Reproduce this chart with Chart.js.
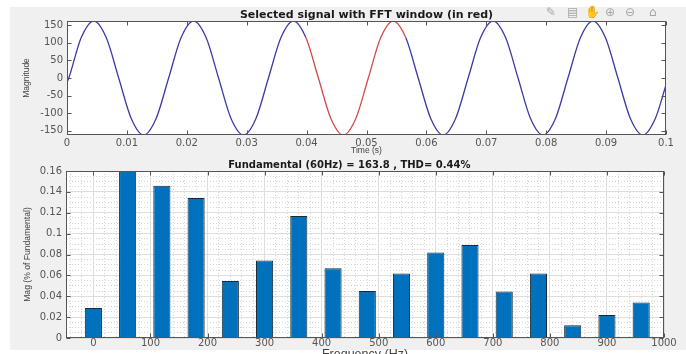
<!DOCTYPE html>
<html>
<head>
<meta charset="utf-8">
<script src="https://cdn.jsdelivr.net/npm/chart.js@4"></script>
<style>
html, body { margin: 0; padding: 0; background: #fff; width: 686px; height: 354px; overflow: hidden; }
#fig { position: absolute; left: 10px; top: 7px; width: 676px; height: 343px; background: #f0f0f0; }
canvas { position: absolute; left: 0; }
#top { top: 0; }
#bottom { top: 158px; }
.tool { position: absolute; top: 5px; font: 12px "DejaVu Sans"; color: #a6a6a6; }
</style>
</head>
<body>
<div id="fig"></div>
<canvas id="top" width="686" height="165"></canvas>
<canvas id="bottom" width="686" height="210"></canvas>
<span class="tool" style="left:546px">✎</span>
<span class="tool" style="left:567px">▤</span>
<span class="tool" style="left:585px">✋</span>
<span class="tool" style="left:605px">⊕</span>
<span class="tool" style="left:625px">⊖</span>
<span class="tool" style="left:649px">⌂</span>
<script>
// top plot: sampled signal (s, value)
const timeS = [0, 0.0003, 0.00238, 0.00447, 0.00655, 0.00863, 0.01072, 0.0128, 0.01488, 0.01697,
  0.01905, 0.02113, 0.02322, 0.0253, 0.02738, 0.02947, 0.03155, 0.03363, 0.03572, 0.0378,
  0.03988, 0.04197, 0.04405, 0.04613, 0.04822, 0.0503, 0.05238, 0.05447, 0.05655, 0.05863,
  0.06072, 0.0628, 0.06488, 0.06697, 0.06905, 0.07113, 0.07322, 0.0753, 0.07738, 0.07947,
  0.08155, 0.08363, 0.08572, 0.0878, 0.08988, 0.09197, 0.09405, 0.09613, 0.09822, 0.1];
const magnitude = [-12,
  0, 115, 162, 115, 0, -115, -162, -115,
  0, 115, 162, 115, 0, -115, -162, -115,
  0, 115, 162, 115, 0, -115, -162, -115,
  0, 115, 162, 115, 0, -115, -162, -115,
  0, 115, 162, 115, 0, -115, -162, -115,
  0, 115, 162, 115, 0, -115, -162, -115,
  -20];
const fftWindow = [0.03988, 0.05655];
const timeTicks = [0, 0.01, 0.02, 0.03, 0.04, 0.05, 0.06, 0.07, 0.08, 0.09, 0.1];
const magTicks = [-150, -100, -50, 0, 50, 100, 150];

// bottom plot: harmonic spectrum
const freqHz = [0, 60, 120, 180, 240, 300, 360, 420, 480, 540, 600, 660, 720, 780, 840, 900, 960];
const magPct = [0.0288, 100, 0.1459, 0.1341, 0.0547, 0.0742, 0.1168, 0.0669, 0.0451,
  0.0618, 0.0819, 0.0890, 0.0445, 0.0618, 0.0122, 0.0221, 0.0339];
const freqTicks = [0, 100, 200, 300, 400, 500, 600, 700, 800, 900, 1000];
const pctTicks = [0, 0.02, 0.04, 0.06, 0.08, 0.1, 0.12, 0.14, 0.16];

const axisColor = '#555555';
const tickFont = { family: 'DejaVu Sans', size: 10, lineHeight: 1 };
const labelColor = '#555555';

// white axes background, box and inward tick marks like MATLAB
const matlabAxes = {
    id: 'matlabAxes',
    beforeDraw(chart) {
        const { ctx, chartArea: a } = chart;
        ctx.save();
        ctx.fillStyle = '#ffffff';
        ctx.fillRect(a.left, a.top, a.right - a.left, a.bottom - a.top);
        ctx.restore();
    },
    afterDatasetsDraw(chart) {
        const { ctx, chartArea: a, scales } = chart;
        const len = 4;
        const l = Math.round(a.left) + 0.5, r = Math.round(a.right) - 0.5;
        const t = Math.round(a.top) + 0.5, b = Math.round(a.bottom) - 0.5;
        ctx.save();
        ctx.strokeStyle = axisColor;
        ctx.lineWidth = 1;
        ctx.strokeRect(l, t, r - l, b - t);
        ctx.beginPath();
        scales.x.ticks.forEach(tk => {
            const px = Math.round(scales.x.getPixelForValue(tk.value)) + 0.5;
            ctx.moveTo(px, b); ctx.lineTo(px, b - len);
            ctx.moveTo(px, t); ctx.lineTo(px, t + len);
        });
        scales.y.ticks.forEach(tk => {
            const py = Math.round(scales.y.getPixelForValue(tk.value)) + 0.5;
            ctx.moveTo(l, py); ctx.lineTo(l + len, py);
            ctx.moveTo(r, py); ctx.lineTo(r - len, py);
        });
        ctx.stroke();
        ctx.restore();
    }
};

function inWindow(c) {
    return c.p0.parsed.x >= fftWindow[0] - 1e-6 && c.p1.parsed.x <= fftWindow[1] + 1e-6;
}

new Chart(document.getElementById('top'), {
    type: 'line',
    data: {
        datasets: [{
            data: timeS.map((t, i) => ({ x: t, y: magnitude[i] })),
            borderColor: '#3a3aa6',
            borderWidth: 1.3,
            pointRadius: 0,
            cubicInterpolationMode: 'monotone',
            segment: {
                borderColor: c => inWindow(c) ? '#d24a4a' : undefined
            }
        }]
    },
    options: {
        responsive: false,
        animation: false,
        events: [],
        layout: { padding: { left: 0, right: 20, top: 0, bottom: 0 } },
        plugins: {
            legend: { display: false },
            tooltip: { enabled: false },
            title: {
                display: true,
                fullSize: false,
                text: 'Selected signal with FFT window (in red)',
                color: '#1a1a1a',
                font: { family: 'DejaVu Sans', size: 11, weight: 'bold', lineHeight: 1 },
                padding: { top: 9.5, bottom: 0.5 }
            }
        },
        scales: {
            x: {
                type: 'linear',
                min: 0,
                max: 0.1,
                afterBuildTicks: s => { s.ticks = timeTicks.map(v => ({ value: v })); },
                afterFit: s => { s.height = 30; s.paddingLeft = 0; s.paddingRight = 0; },
                ticks: { autoSkip: false, maxRotation: 0, padding: 3, color: labelColor, font: tickFont,
                         callback: v => String(v) },
                grid: { display: false, drawTicks: false },
                border: { display: false },
                title: { display: true, text: 'Time (s)', color: '#444',
                         font: { family: 'Liberation Sans', size: 8.5 }, padding: { top: 0, bottom: 9 } }
            },
            y: {
                min: -162,
                max: 162,
                afterBuildTicks: s => { s.ticks = magTicks.map(v => ({ value: v })); },
                afterFit: s => { s.width = 67; s.paddingTop = 0; s.paddingBottom = 0; },
                ticks: { autoSkip: false, padding: 4, color: labelColor, font: tickFont,
                         callback: v => String(v) },
                grid: { display: false, drawTicks: false },
                border: { display: false },
                title: { display: true, text: 'Magnitude', color: '#444',
                         font: { family: 'Liberation Sans', size: 8.5 }, padding: { top: 22, bottom: 0 } }
            }
        }
    },
    plugins: [matlabAxes]
});

new Chart(document.getElementById('bottom'), {
    type: 'bar',
    data: {
        datasets: [{
            data: freqHz.map((f, i) => ({ x: f, y: magPct[i] })),
            xAxisID: 'x',
            yAxisID: 'y',
            backgroundColor: '#0072bd',
            borderColor: '#1c2a38',
            borderWidth: 1,
            barPercentage: 0.5,
            categoryPercentage: 1
        }]
    },
    options: {
        responsive: false,
        animation: false,
        events: [],
        layout: { padding: { left: 0, right: 22, top: 0, bottom: 0 } },
        plugins: {
            legend: { display: false },
            tooltip: { enabled: false },
            title: {
                display: true,
                fullSize: false,
                // trailing blanks as in the source title, which sits left of centre
                text: 'Fundamental (60Hz) = 163.8 , THD= 0.44%         ',
                color: '#1a1a1a',
                font: { family: 'DejaVu Sans', size: 10, weight: 'bold', lineHeight: 1 },
                padding: { top: 2, bottom: 1 }
            }
        },
        scales: {
            x: {
                type: 'linear',
                min: -48,
                max: 1000,
                offset: false,
                afterBuildTicks: s => { s.ticks = freqTicks.map(v => ({ value: v })); },
                afterFit: s => { s.height = 30; s.paddingLeft = 0; s.paddingRight = 0; },
                ticks: { autoSkip: false, maxRotation: 0, padding: 0.5, color: labelColor, font: tickFont,
                         callback: v => String(v) },
                grid: { color: '#dedede', drawTicks: false, offset: false },
                border: { display: false },
                title: { display: true, text: 'Frequency (Hz)', color: '#444',
                         font: { family: 'Liberation Sans', size: 12.5 }, padding: { top: 0, bottom: 5.5 } }
            },
            xMinor: {
                type: 'linear',
                axis: 'x',
                position: 'bottom',
                min: -48,
                max: 1000,
                offset: false,
                afterFit: s => { s.height = 0; s.paddingLeft = 0; s.paddingRight = 0; },
                ticks: { display: false, stepSize: 20, includeBounds: false },
                grid: { color: '#d6d6d6', drawTicks: false, offset: false, z: -2 },
                border: { display: false, dash: [1, 2] }
            },
            y: {
                min: 0,
                max: 0.16,
                afterBuildTicks: s => { s.ticks = pctTicks.map(v => ({ value: v })); },
                afterFit: s => { s.width = 66; s.paddingTop = 0; s.paddingBottom = 0; },
                ticks: { autoSkip: false, padding: 4, color: labelColor, font: tickFont,
                         callback: v => String(v) },
                grid: { color: '#dedede', drawTicks: false },
                border: { display: false },
                title: { display: true, text: 'Mag (% of Fundamental)', color: '#444',
                         font: { family: 'Liberation Sans', size: 8.6 }, padding: { top: 22, bottom: 0 } }
            },
            yMinor: {
                type: 'linear',
                axis: 'y',
                position: 'left',
                min: 0,
                max: 0.16,
                afterFit: s => { s.width = 0; s.paddingTop = 0; s.paddingBottom = 0; },
                ticks: { display: false, stepSize: 0.005, includeBounds: false },
                grid: { color: '#d6d6d6', drawTicks: false, z: -2 },
                border: { display: false, dash: [1, 2] }
            }
        }
    },
    plugins: [matlabAxes]
});
</script>
</body>
</html>
